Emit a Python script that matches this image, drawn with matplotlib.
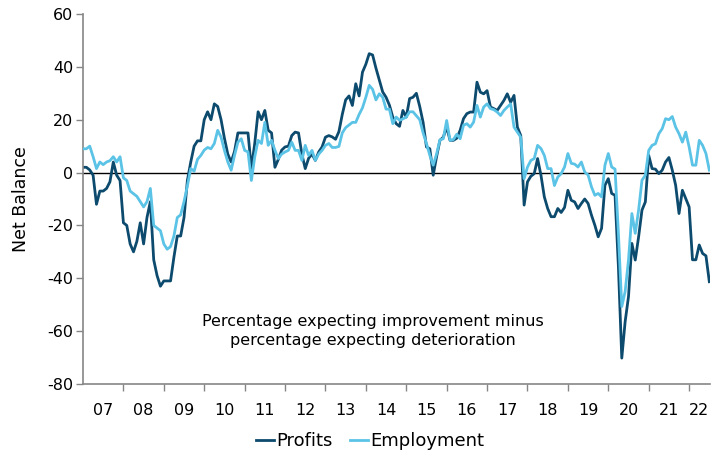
import matplotlib
matplotlib.use('Agg')
import matplotlib.pyplot as plt

year_labels = ['07', '08', '09', '10', '11', '12', '13', '14', '15', '16',
               '17', '18', '19', '20', '21', '22']

profits = [
    2, 2, 1, -1, -12, -7, -7, -6, -3.5, 4, -1, -3,
    -19, -20, -27, -30, -26, -19, -27, -17, -11, -33, -39, -43,
    -41, -41, -41, -32, -24, -24, -17, -3, 4, 10, 12, 12,
    20, 23, 20, 26, 25, 20, 13, 7, 4, 8, 15, 15,
    15, 15, 1.5, 11, 23, 20, 23.5, 16, 15, 2, 5, 8.5,
    9.7, 10, 14, 15.3, 15, 7, 1.5, 5.4, 7, 4.6, 7.8, 9.7,
    13.4, 14, 13.5, 12.6, 15.5, 22, 27.5, 29, 25.4, 33.6, 29, 38,
    41, 45, 44.5, 39.5, 35, 30.5, 28.5, 25.5, 21, 18.5, 17.5, 23.5,
    21, 28, 28.5, 30, 25, 19, 9.7, 9, -1, 6, 12.2, 13.4,
    17.2, 12.2, 12.2, 13, 16, 20.4, 22.3, 22.9, 22.9, 34.2, 30.4, 29.8,
    31, 24.8, 24.2, 23.5, 25.4, 27.3, 29.8, 26.6, 29.2, 17.2, 14, -12.3,
    -3.5, -1.4, -0.4, 5.3, -1, -9.2, -13.6, -16.7, -16.7, -13.6, -15.1, -13.2,
    -6.7, -10.5, -11.1, -13.6, -11.7, -10, -11.7, -16.1, -19.9, -24.3, -21.1, -4.8,
    -2.3, -7.9, -8.6, -35.6, -70.2, -56.4, -46.9, -26.8, -33.1, -24.3, -14.2, -11.1,
    6.5, 1.5, 1.3, -0.4, 0.9, 4, 5.7, 0.9, -4.8, -15.5, -6.7, -9.8,
    -13, -33, -33, -27.4, -30.6, -31.5, -41.3,
]

employment = [
    9, 9, 10, 6, 1.5, 4, 3, 4, 4.5, 6, 4, 6,
    -2, -3, -7, -8, -9, -11, -13, -11, -6, -20, -21, -22,
    -27, -29, -28, -24, -17, -16, -11, -5, 1.5, 0.5, 5, 6.5,
    8.5, 9.5, 9, 11, 16, 13.4, 8.4, 4, 0.9, 6.5, 11.5, 12.8,
    8.4, 7.8, -3, 5.9, 12.2, 11, 19, 10.3, 12.2, 8.4, 5.3, 7,
    7.8, 8.4, 11.5, 8.4, 8.4, 4.6, 10.3, 6.5, 8.4, 4.6, 7, 8.4,
    10.3, 11, 9.5, 9.5, 9.9, 15, 17, 18, 19, 19, 22, 24.5,
    28.5, 33, 31.5, 27.5, 29.8, 28.5, 24, 24, 18.5, 21, 19.8, 20.3,
    21, 23, 23, 21.5, 20, 15, 11, 6.5, 2.8, 7, 12.4, 12.8,
    19.7, 12.2, 12.5, 14.5, 12.8, 17.9, 18.5, 17.2, 19.1, 25.4, 21, 24.8,
    26, 24.2, 23.8, 22.9, 21.6, 23.5, 24.8, 26, 17.2, 15.3, 13.4, -2.3,
    2.1, 4.6, 5.3, 10.3, 9.1, 6.5, 1.5, 1.5, -4.9, -1.7, -0.4, 2.1,
    7.2, 3.5, 3.2, 2.1, 4, 0.2, -0.9, -5.4, -8.6, -7.9, -9.2, 2.8,
    7.2, 2.1, 1.3, -23, -50.7, -45, -33.1, -15.5, -23, -14.2, -2.9, -1,
    8.4, 10.3, 10.9, 14.7, 16.6, 20.4, 20, 21.2, 17.2, 14.7, 11.5, 15.3,
    9.7, 2.8, 2.8, 12.2, 10.3, 7.2, 0.9,
]

y_ticks = [60, 40, 20, 0, -20, -40, -60, -80]

PROFIT_COLOR = '#0c4a6e'
EMPLOY_COLOR = '#5bc3e6'
AXIS_COLOR = '#868686'
FS = 11.5

W, H = 713, 455
fig = plt.figure(figsize=(W / 100, H / 100), dpi=100)
ax = fig.add_axes([83 / W, 1 - 384 / H, (710 - 83) / W, (384 - 14) / H])

n = len(profits)
x = list(range(n))
ax.axhline(0, color='black', lw=1.0, zorder=1)
ax.plot(x, profits, color=PROFIT_COLOR, lw=2.0, label='Profits', zorder=2,
        solid_joinstyle='round')
ax.plot(x, employment, color=EMPLOY_COLOR, lw=2.0, label='Employment', zorder=3,
        solid_joinstyle='round')

ax.set_xlim(0, 186.2)
ax.set_ylim(-80, 60)

# year boundaries as tick marks, labels centered between them
bounds = [12 * k for k in range(1, len(year_labels))]
ax.set_xticks(bounds)
ax.set_xticklabels([])
centers = [12 * k + 6 for k in range(len(year_labels) - 1)] + [(12 * (len(year_labels) - 1) + 186) / 2]
ax.set_xticks(centers, minor=True)
ax.set_xticklabels(year_labels, minor=True, fontsize=FS)
ax.tick_params(axis='x', which='major', direction='out', length=5, width=1, color=AXIS_COLOR)
ax.tick_params(axis='x', which='minor', length=0, pad=14)

ax.set_yticks(y_ticks)
ax.set_yticklabels([str(v) for v in y_ticks], fontsize=FS)
ax.tick_params(axis='y', direction='out', length=5, width=1, color=AXIS_COLOR, pad=2)

for s in ['top', 'right']:
    ax.spines[s].set_visible(False)
for s in ['left', 'bottom']:
    ax.spines[s].set_color(AXIS_COLOR)
    ax.spines[s].set_linewidth(1.2)

ax.set_ylabel('Net Balance', fontsize=12.5, labelpad=12)

ax.text(86, -60, 'Percentage expecting improvement minus\npercentage expecting deterioration',
        ha='center', va='center', multialignment='center', fontsize=FS, linespacing=1.35)

fig.legend(loc='center', bbox_to_anchor=(370 / W, 1 - 441 / H), ncol=2, frameon=False,
           fontsize=13, handlelength=1.0, handletextpad=0.12, columnspacing=1.0)

fig.savefig('out.png', dpi=100)
